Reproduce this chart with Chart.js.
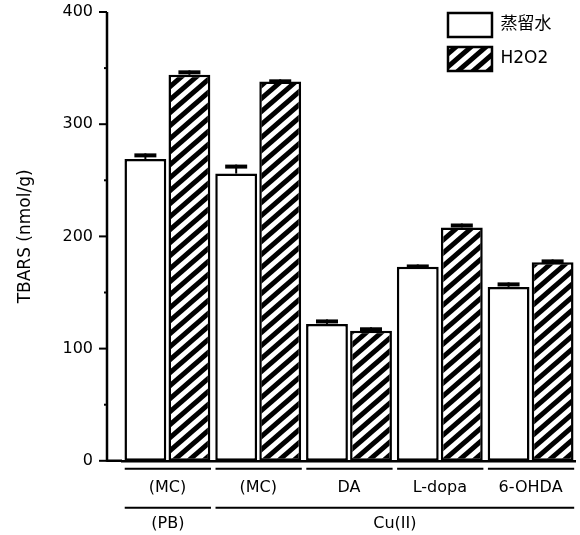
<!DOCTYPE html>
<html>
<head>
<meta charset="utf-8">
<script src="https://cdn.jsdelivr.net/npm/chart.js@4.4.0/dist/chart.umd.min.js"></script>
<style>
    html, body { margin: 0; padding: 0; background: #fff; }
    canvas { display: block; }
</style>
</head>
<body>
<canvas id="myChart" width="580" height="535"></canvas>
<script>
const groups = ["(MC)", "(MC)", "DA", "L-dopa", "6-OHDA"];
const outerLabels = ["(PB)", "Cu(II)"];
const outerSpans = [[0, 0], [1, 4]];
const seriesNames = ["蒸留水", "H2O2"];
const waterValues = [269, 256, 122, 173, 155];
const waterErrors = [5, 8, 4, 2, 4];
const peroxideValues = [344, 338, 116, 208, 177];
const peroxideErrors = [4, 2, 3, 3.5, 2.5];

const fontFamily = "'DejaVu Sans', 'Noto Sans CJK JP', sans-serif";
Chart.defaults.font.family = fontFamily;
Chart.defaults.color = "#000";

const axisGap = 15; // y axis line sits a little left of the first bar group

// diagonal hatch used for the H2O2 bars
function makeHatch() {
    const w = 15;
    const h = 13;
    const c = document.createElement("canvas");
    c.width = w;
    c.height = h;
    const g = c.getContext("2d");
    g.fillStyle = "#fff";
    g.fillRect(0, 0, w, h);
    g.strokeStyle = "#000";
    g.lineWidth = 5;
    g.beginPath();
    [-1, 0, 1].forEach((k) => {
        g.moveTo(k * w - 3, h + 3 * h / w);
        g.lineTo(k * w + w + 3, -3 * h / w);
    });
    g.stroke();
    return g.createPattern(c, "repeat");
}

// y axis line and its ticks, drawn off the plot edge
const yAxisLine = {
    id: "yAxisLine",
    beforeDatasetsDraw(chart) {
        const ctx = chart.ctx;
        const y = chart.scales.y;
        const area = chart.chartArea;
        const ax = area.left - axisGap;
        ctx.save();
        ctx.strokeStyle = "#000";
        ctx.lineWidth = 2.5;
        ctx.beginPath();
        ctx.moveTo(ax, area.top);
        ctx.lineTo(ax, area.bottom + 1);
        ctx.moveTo(ax, area.bottom);
        ctx.lineTo(area.left, area.bottom);
        ctx.stroke();
        ctx.lineWidth = 2;
        y.ticks.forEach((t) => {
            const py = y.getPixelForValue(t.value);
            const len = t.value % 100 === 0 ? 8 : 3;
            ctx.beginPath();
            ctx.moveTo(ax - len, py);
            ctx.lineTo(ax, py);
            ctx.stroke();
        });
        ctx.restore();
    },
};

const errorBars = {
    id: "errorBars",
    afterDatasetsDraw(chart) {
        const ctx = chart.ctx;
        const y = chart.scales.y;
        const errs = [waterErrors, peroxideErrors];
        chart.data.datasets.forEach((ds, di) => {
            chart.getDatasetMeta(di).data.forEach((bar, i) => {
                const top = y.getPixelForValue(ds.data[i] + errs[di][i]);
                ctx.save();
                ctx.strokeStyle = "#000";
                ctx.lineWidth = 2;
                ctx.beginPath();
                ctx.moveTo(bar.x, bar.y);
                ctx.lineTo(bar.x, top);
                ctx.stroke();
                ctx.lineWidth = 4;
                ctx.beginPath();
                ctx.moveTo(bar.x - 11, top + 2);
                ctx.lineTo(bar.x + 11, top + 2);
                ctx.stroke();
                ctx.restore();
            });
        });
    },
};

// group underlines and the second row of labels
const groupRows = {
    id: "groupRows",
    afterDraw(chart) {
        const ctx = chart.ctx;
        const x = chart.scales.x;
        const area = chart.chartArea;
        const half = x.getPixelForValue(1) - x.getPixelForValue(0);
        const left = (i) => x.getPixelForValue(i) - half * 0.47;
        const right = (i) => x.getPixelForValue(i) + half * 0.48;
        ctx.save();
        ctx.strokeStyle = "#000";
        ctx.lineWidth = 2;
        groups.forEach((g, i) => {
            ctx.beginPath();
            ctx.moveTo(left(i), area.bottom + 8);
            ctx.lineTo(right(i), area.bottom + 8);
            ctx.stroke();
        });
        ctx.font = "16px " + fontFamily;
        ctx.fillStyle = "#000";
        ctx.textAlign = "center";
        ctx.textBaseline = "middle";
        outerSpans.forEach((span, i) => {
            const x0 = left(span[0]);
            const x1 = right(span[1]);
            ctx.beginPath();
            ctx.moveTo(x0, area.bottom + 47);
            ctx.lineTo(x1, area.bottom + 47);
            ctx.stroke();
            ctx.fillText(outerLabels[i], (x0 + x1) / 2, area.bottom + 63);
        });
        ctx.restore();
    },
};

// put the legend in the top right corner of the plot
const legendSpot = {
    id: "legendSpot",
    afterLayout(chart) {
        const lg = chart.legend;
        lg.left = chart.chartArea.right - 138;
        lg.top = chart.chartArea.top - 9;
    },
};

const ctx = document.getElementById("myChart").getContext("2d");
new Chart(ctx, {
    type: "bar",
    data: {
        labels: groups,
        datasets: [
            {
                label: seriesNames[0],
                data: waterValues,
                backgroundColor: "#fff",
                borderColor: "#000",
                borderWidth: 2.5,
                borderSkipped: false,
            },
            {
                label: seriesNames[1],
                data: peroxideValues,
                backgroundColor: makeHatch(),
                borderColor: "#000",
                borderWidth: 2.5,
                borderSkipped: false,
            },
        ],
    },
    options: {
        responsive: false,
        animation: false,
        categoryPercentage: 0.97,
        barPercentage: 0.95,
        layout: { padding: { left: 0, top: 12, right: 4, bottom: 21 } },
        plugins: {
            tooltip: { enabled: false },
            legend: {
                position: "chartArea",
                align: "start",
                labels: {
                    boxWidth: 44,
                    boxHeight: 24,
                    padding: 10,
                    color: "#000",
                    font: { size: 17 },
                },
            },
        },
        scales: {
            x: {
                grid: { display: false, drawTicks: false },
                border: { color: "#000", width: 2.5 },
                ticks: {
                    autoSkip: false,
                    maxRotation: 0,
                    padding: 17,
                    font: { size: 16 },
                },
            },
            y: {
                min: 0,
                max: 400,
                afterFit: (scale) => {
                    scale.width = 122;
                    scale.paddingTop = 0;
                },
                grid: { display: false, drawTicks: false },
                border: { display: false },
                ticks: {
                    stepSize: 50,
                    padding: 29,
                    font: { size: 16 },
                    callback: (v) => (v % 100 === 0 ? v : ""),
                },
                title: {
                    display: true,
                    text: "TBARS (nmol/g)",
                    font: { size: 17 },
                    padding: { top: 15, bottom: 0 },
                },
            },
        },
    },
    plugins: [yAxisLine, errorBars, groupRows, legendSpot],
});
</script>
</body>
</html>
